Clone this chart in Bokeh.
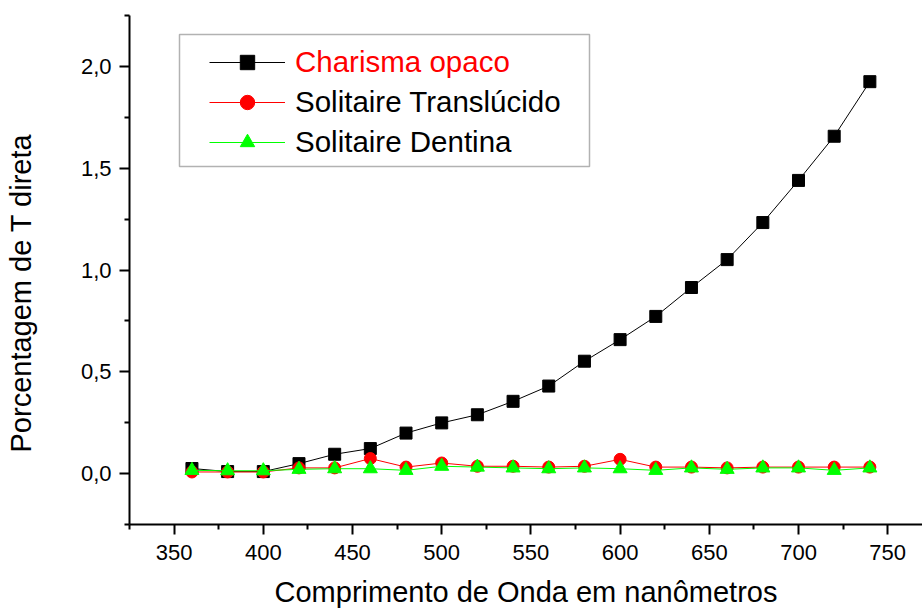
from bokeh.plotting import figure
from bokeh.models import (FixedTicker, Legend, LegendItem, BoxAnnotation, Title, Range1d)
from bokeh.embed import file_html
from bokeh.resources import INLINE

# ---- data ----
wavelength = [360, 380, 400, 420, 440, 460, 480, 500, 520, 540,
              560, 580, 600, 620, 640, 660, 680, 700, 720, 740]
charisma_opaco = [0.025, 0.010, 0.010, 0.049, 0.095, 0.123, 0.199, 0.249, 0.289, 0.355,
                  0.430, 0.552, 0.658, 0.772, 0.914, 1.051, 1.233, 1.440, 1.657, 1.925]
solitaire_translucido = [0.008, 0.008, 0.008, 0.028, 0.028, 0.074, 0.032, 0.052, 0.036, 0.036,
                         0.032, 0.036, 0.070, 0.032, 0.032, 0.028, 0.032, 0.032, 0.032, 0.032]
solitaire_dentina = [0.016, 0.014, 0.014, 0.021, 0.024, 0.024, 0.016, 0.036, 0.032, 0.028,
                     0.024, 0.028, 0.024, 0.016, 0.028, 0.021, 0.028, 0.028, 0.016, 0.028]

series_names = ["Charisma opaco", "Solitaire Translúcido", "Solitaire Dentina"]

x_ticks = [350, 400, 450, 500, 550, 600, 650, 700, 750]
x_minor = [325, 375, 425, 475, 525, 575, 625, 675, 725, 775]
y_ticks = [0.0, 0.5, 1.0, 1.5, 2.0]
y_tick_labels = ["0,0", "0,5", "1,0", "1,5", "2,0"]
y_minor = [-0.25, 0.25, 0.75, 1.25, 1.75, 2.25]

x_label = "Comprimento de Onda em nanômetros"
y_label = "Porcentagem de T direta"

FONT = "Liberation Sans"

p = figure(width=922, height=611,
           x_range=Range1d(325, 769.5), y_range=Range1d(-0.25, 2.25),
           output_backend="svg", toolbar_location=None,
           min_border_left=129, min_border_right=0,
           min_border_top=15, min_border_bottom=87)

p.outline_line_color = None
p.xgrid.visible = False
p.ygrid.visible = False
p.background_fill_color = "white"
p.border_fill_color = "white"

# series
l1 = p.line(wavelength, charisma_opaco, line_color="black", line_width=1)
s1 = p.scatter(wavelength, charisma_opaco, marker="square", size=12,
               fill_color="black", line_color="black")
l2 = p.line(wavelength, solitaire_translucido, line_color="#FF0000", line_width=1)
s2 = p.scatter(wavelength, solitaire_translucido, marker="circle", size=12,
               fill_color="#FF0000", line_color="#FF0000")
l3 = p.line(wavelength, solitaire_dentina, line_color="#00FF00", line_width=1)
s3 = p.scatter(wavelength, solitaire_dentina, marker="triangle", size=14,
               fill_color="#00FF00", line_color="#00FF00")

# axes
for ax in (p.xaxis[0], p.yaxis[0]):
    ax.axis_line_width = 2
    ax.axis_line_color = "black"
    ax.major_tick_line_width = 2
    ax.minor_tick_line_width = 2
    ax.major_tick_in = 0
    ax.minor_tick_in = 0
    ax.major_tick_out = 10
    ax.minor_tick_out = 5
    ax.major_label_text_font = FONT
    ax.major_label_text_font_size = "22px"
    ax.major_label_text_color = "black"
    ax.major_label_standoff = 8
p.xaxis.major_label_standoff = 10

p.xaxis.ticker = FixedTicker(ticks=x_ticks, minor_ticks=x_minor)
p.yaxis.ticker = FixedTicker(ticks=y_ticks, minor_ticks=y_minor)
p.yaxis.major_label_overrides = {t: s for t, s in zip(y_ticks, y_tick_labels)}

p.xaxis.axis_label = x_label
p.xaxis.axis_label_text_font = FONT
p.xaxis.axis_label_text_font_size = "29px"
p.xaxis.axis_label_text_font_style = "normal"
p.xaxis.axis_label_text_color = "black"
p.xaxis.axis_label_standoff = 13

# spacer between the y axis and its title, then the title itself
spacer = Title(text=" ", text_font_size="1px", standoff=37)
p.add_layout(spacer, "left")
ytitle = Title(text=y_label, align="left", offset=72, vertical_align="middle",
               standoff=0, text_font=FONT, text_font_size="29px",
               text_font_style="normal", text_color="black")
p.add_layout(ytitle, "left")

# legend box
box = BoxAnnotation(left=50, right=460, bottom=358, top=490,
                    left_units="screen", right_units="screen",
                    bottom_units="screen", top_units="screen",
                    fill_alpha=0, line_color="black", line_width=1.5)
p.add_layout(box)

common = dict(glyph_width=76, glyph_height=36, label_height=36, label_standoff=10,
              padding=0, spacing=4, border_line_alpha=0, background_fill_alpha=0,
              label_text_font=FONT, label_text_font_size="29.5px")
legA = Legend(items=[LegendItem(label=series_names[0], renderers=[l1, s1])],
              location=(80, 444), label_text_color="#FF0000", **common)
legB = Legend(items=[LegendItem(label=series_names[1], renderers=[l2, s2]),
                     LegendItem(label=series_names[2], renderers=[l3, s3])],
              location=(80, 364), label_text_color="black", **common)
p.add_layout(legA)
p.add_layout(legB)

open("out.html", "w").write(file_html(p, INLINE))
